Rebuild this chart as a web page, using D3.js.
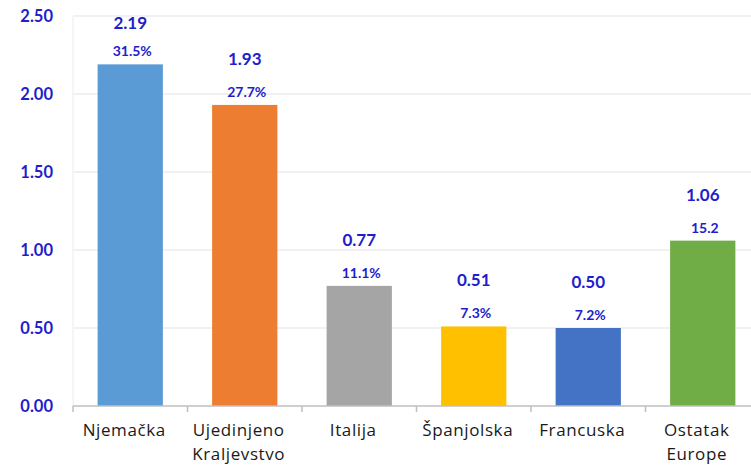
<!DOCTYPE html>
<html>
<head>
<meta charset="utf-8">
<script src="https://cdn.jsdelivr.net/npm/d3@7"></script>
<style>
  html, body { margin: 0; padding: 0; background: #fff; }
  svg { display: block; }
</style>
</head>
<body>
<div id="chart"></div>
<script>
// chart data
const categories = ['Njemačka', 'Ujedinjeno Kraljevstvo', 'Italija', 'Španjolska', 'Francuska', 'Ostatak Europe'];
const values = [2.19, 1.93, 0.77, 0.51, 0.50, 1.06];
const shares = ['31.5%', '27.7%', '11.1%', '7.3%', '7.2%', '15.2'];
const yTicks = [0, 0.5, 1, 1.5, 2, 2.5];
const colors = ['#5B9BD5', '#ED7D31', '#A5A5A5', '#FFC000', '#4472C4', '#70AD47'];

const width = 751, height = 466;
const margin = { top: 16, right: -9, bottom: 60, left: 73 };
const labelBlue = '#1E1ECC';

const svg = d3.select('#chart').append('svg')
  .attr('width', width)
  .attr('height', height);

const x = d3.scaleBand()
  .domain(categories)
  .range([margin.left, width - margin.right])
  .paddingInner(0.43)
  .paddingOuter(0.215);

const y = d3.scaleLinear()
  .domain([0, 2.5])
  .range([height - margin.bottom, margin.top]);

// gridlines
svg.append('g')
  .selectAll('line')
  .data(yTicks.filter(d => d > 0))
  .join('line')
  .attr('x1', margin.left)
  .attr('x2', width)
  .attr('y1', d => y(d))
  .attr('y2', d => y(d))
  .attr('stroke', '#ECECEC')
  .attr('stroke-width', 1.5);

svg.append('line')
  .attr('x1', margin.left).attr('x2', margin.left)
  .attr('y1', y(2.5)).attr('y2', y(0))
  .attr('stroke', '#ECECEC')
  .attr('stroke-width', 1);

// y axis labels
const yAxis = d3.axisLeft(y).tickValues(yTicks).tickFormat(d3.format('.2f')).tickSize(0).tickPadding(20);
svg.append('g')
  .attr('transform', `translate(${margin.left},0)`)
  .call(yAxis)
  .call(g => g.select('.domain').remove())
  .selectAll('text')
  .attr('fill', labelBlue)
  .style('font-family', 'Lato, sans-serif')
  .style('font-weight', 'bold')
  .style('font-size', '16.5px');

// bars
svg.append('g')
  .selectAll('rect')
  .data(categories)
  .join('rect')
  .attr('x', d => x(d))
  .attr('y', (d, i) => y(values[i]))
  .attr('width', x.bandwidth())
  .attr('height', (d, i) => y(0) - y(values[i]))
  .attr('fill', (d, i) => colors[i]);

// x axis
const step = x.step();
const xAxisG = svg.append('g')
  .attr('transform', `translate(0,${y(0)})`);
xAxisG.append('line')
  .attr('x1', margin.left).attr('x2', width)
  .attr('stroke', '#BFBFBF').attr('stroke-width', 1.5);
xAxisG.selectAll('line.tick')
  .data(categories)
  .join('line')
  .attr('class', 'tick')
  .attr('x1', d => x(d) - x.paddingOuter() * step)
  .attr('x2', d => x(d) - x.paddingOuter() * step)
  .attr('y1', 0).attr('y2', 6)
  .attr('stroke', '#BFBFBF').attr('stroke-width', 1.5);

// category labels
const catText = svg.append('g')
  .selectAll('text')
  .data(categories)
  .join('text')
  .attr('x', d => x(d) + x.bandwidth() / 2 - 6)
  .attr('y', y(0) + 30)
  .attr('text-anchor', 'middle')
  .attr('fill', '#1a1a1a')
  .style('font-family', '"Open Sans", sans-serif')
  .style('font-size', '17px')
  .style('letter-spacing', '0.6px');
catText.each(function (d) {
  const words = d.split(' ');
  const t = d3.select(this);
  words.forEach((w, k) => {
    t.append('tspan')
      .attr('x', x(d) + x.bandwidth() / 2 - 6)
      .attr('dy', k === 0 ? 0 : 24)
      .text(w);
  });
});

// value labels
svg.append('g')
  .selectAll('text')
  .data(categories)
  .join('text')
  .attr('x', d => x(d) + x.bandwidth() / 2)
  .attr('y', (d, i) => Math.max(y(values[i]) - 40, 29))
  .attr('text-anchor', 'middle')
  .attr('fill', labelBlue)
  .style('font-family', 'Lato, sans-serif')
  .style('font-weight', 'bold')
  .style('font-size', '17px')
  .text((d, i) => values[i].toFixed(2));

// share labels
svg.append('g')
  .selectAll('text')
  .data(categories)
  .join('text')
  .attr('x', d => x(d) + x.bandwidth() / 2 + 2)
  .attr('y', (d, i) => y(values[i]) - 8)
  .attr('text-anchor', 'middle')
  .attr('fill', labelBlue)
  .style('font-family', 'Lato, sans-serif')
  .style('font-weight', 'bold')
  .style('font-size', '14px')
  .text((d, i) => shares[i]);
</script>
</body>
</html>
